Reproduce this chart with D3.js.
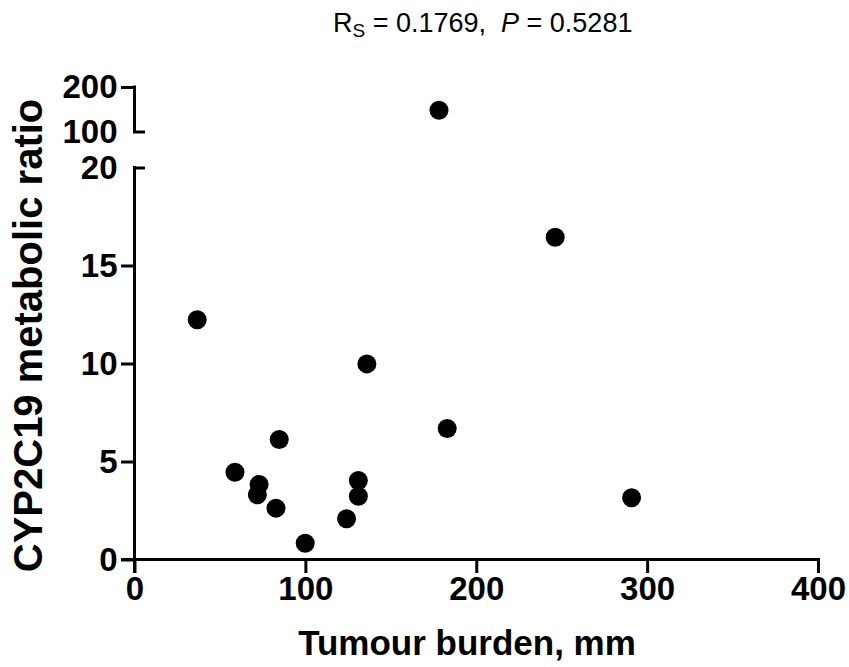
<!DOCTYPE html>
<html>
<head>
<meta charset="utf-8">
<script src="https://cdnjs.cloudflare.com/ajax/libs/d3/7.8.5/d3.min.js"></script>
<style>
  html, body { margin: 0; padding: 0; background: #fff; }
  svg text { font-family: "Liberation Sans", Arial, sans-serif; fill: #000; }
</style>
</head>
<body>
<div class="chart"></div>
<script>
'use strict';

// data
const tumourBurden = [36.7, 58.8, 72.9, 71.9, 82.8, 84.7, 99.9, 124.1, 131, 131, 136, 183.0, 178.2, 246.2, 290.9];
const metabolicRatio = [12.23, 4.45, 3.83, 3.30, 2.62, 6.12, 0.83, 2.08, 4.03, 3.23, 9.98, 6.68, 147.7, 16.44, 3.15];
const xTicks = [0, 100, 200, 300, 400];
const yTicksLow = [0, 5, 10, 15, 20];
const yTicksHigh = [100, 200];

document.addEventListener('DOMContentLoaded', () => {

  const width = 849, height = 667;

  const svg = d3.select(".chart")
    .append("svg")
    .attr("width", width)
    .attr("height", height);

  // scales, the y axis is broken in two segments
  const xScale = d3.scaleLinear().domain([0, 400]).range([134.5, 818]);
  const yLow = d3.scaleLinear().domain([0, 20]).range([559.5, 167.5]);
  const yHigh = d3.scaleLinear().domain([100, 200]).range([131.5, 87]);
  const yPos = v => v > 20 ? yHigh(v) : yLow(v);

  const axisX = xScale(0);
  const tickLen = 12;
  const stroke = 3;

  // x axis
  const gx = svg.append("g")
    .attr("transform", `translate(0,${yLow(0)})`)
    .call(d3.axisBottom(xScale).tickValues(xTicks).tickSize(tickLen).tickSizeOuter(0).tickPadding(5));
  gx.select(".domain").attr("d", `M${axisX - tickLen},0H${xScale(400)}`);

  // lower y segment
  const gyLow = svg.append("g")
    .attr("transform", `translate(${axisX},0)`)
    .call(d3.axisLeft(yLow).tickValues(yTicksLow).tickSize(tickLen).tickSizeOuter(0).tickPadding(5));
  gyLow.select(".domain").attr("d", `M0,${yLow(20)}V${yLow(0) + tickLen}`);
  gyLow.selectAll(".tick").filter(d => d === 20).select("line").attr("x2", 9);

  // upper y segment
  const gyHigh = svg.append("g")
    .attr("transform", `translate(${axisX},0)`)
    .call(d3.axisLeft(yHigh).tickValues(yTicksHigh).tickSize(tickLen).tickSizeOuter(0).tickPadding(5));
  gyHigh.select(".domain").attr("d", `M0,${yHigh(200)}V${yHigh(100)}`);
  gyHigh.selectAll(".tick").filter(d => d === 100).select("line").attr("x2", 9);

  svg.selectAll(".domain, .tick line")
    .attr("stroke", "#000")
    .attr("stroke-width", stroke)
    .attr("stroke-linecap", "square");

  svg.selectAll(".tick text")
    .attr("fill", "#000")
    .style("font-size", "33px")
    .style("font-weight", "bold")
    .style("font-family", '"Liberation Sans", Arial, sans-serif');

  // points
  svg.append("g")
    .selectAll("circle")
    .data(tumourBurden.map((x, i) => ({x: x, y: metabolicRatio[i]})))
    .enter()
    .append("circle")
    .attr("cx", d => xScale(d.x))
    .attr("cy", d => yPos(d.y))
    .attr("r", 9.5)
    .style("fill", "#000");

  // axis titles
  svg.append("text")
    .attr("x", 467)
    .attr("y", 655)
    .attr("text-anchor", "middle")
    .style("font-size", "35px")
    .style("font-weight", "bold")
    .text("Tumour burden, mm");

  svg.append("text")
    .attr("transform", "translate(41.5,335.5) rotate(-90)")
    .attr("text-anchor", "middle")
    .style("font-size", "40px")
    .style("font-weight", "bold")
    .text("CYP2C19 metabolic ratio");

  // correlation note
  const note = svg.append("text")
    .attr("x", 333)
    .attr("y", 32)
    .style("font-size", "27px")
    .style("white-space", "pre");
  note.append("tspan").text("R");
  note.append("tspan").attr("dy", 4.5).style("font-size", "19px").text("S");
  note.append("tspan").attr("dy", -4.5).text(" = 0.1769,  ");
  note.append("tspan").style("font-style", "italic").text("P");
  note.append("tspan").text(" = 0.5281");

});
</script>
</body>
</html>
